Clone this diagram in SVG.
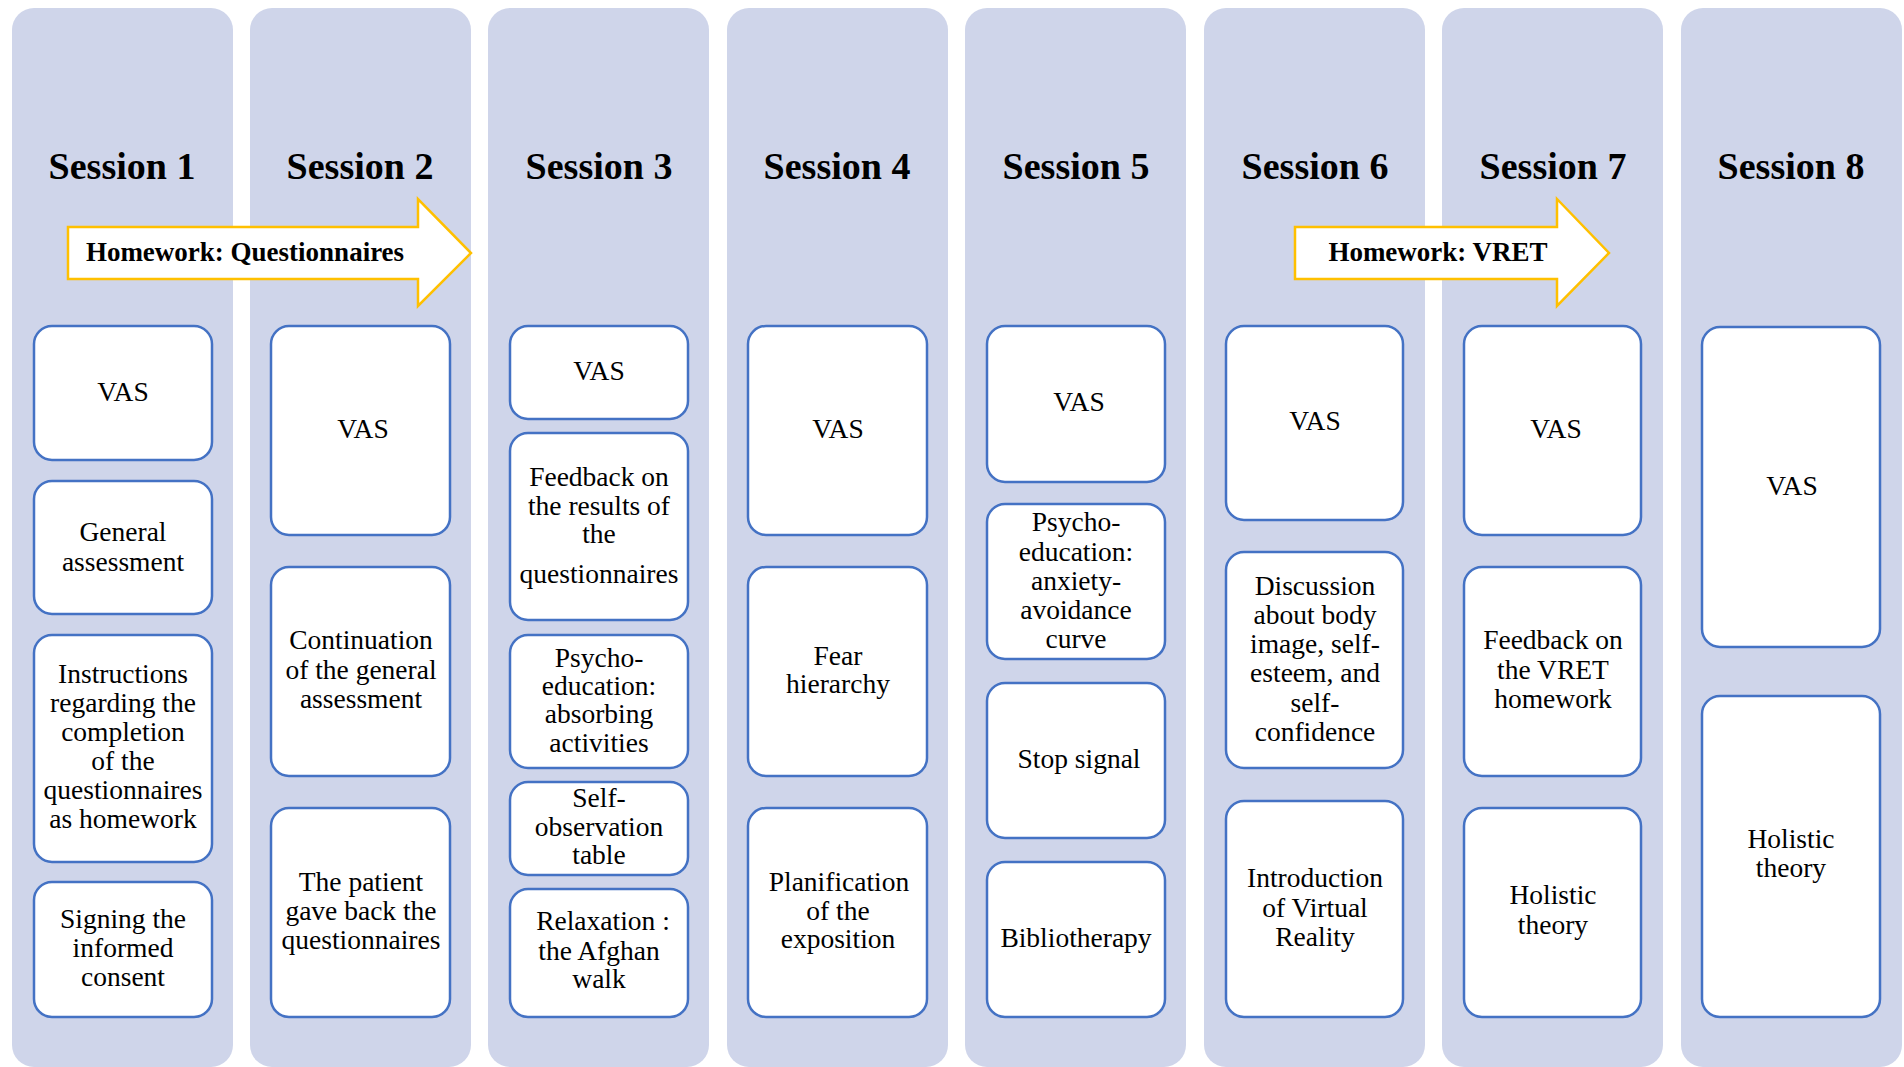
<svg xmlns="http://www.w3.org/2000/svg" width="1904" height="1067" viewBox="0 0 1904 1067">
<style>
.col{fill:#CFD5EA}
.box{fill:#FFFFFF;stroke:#4472C4;stroke-width:2.5}
.title{font-family:"Liberation Serif","Times New Roman",serif;font-weight:bold;font-size:38px;fill:#000;text-anchor:middle}
.t{font-family:"Liberation Serif","Times New Roman",serif;font-size:27.5px;fill:#000;text-anchor:middle}
.arrow{fill:#FFFFFF;stroke:#FFC000;stroke-width:2.5;stroke-linejoin:miter}
.at{font-family:"Liberation Serif","Times New Roman",serif;font-weight:bold;font-size:27px;fill:#000;text-anchor:middle}
</style>
<rect width="1904" height="1067" fill="#FFFFFF"/>
<g id="columns">
<rect class="col" x="12" y="8" width="221" height="1059" rx="22"/>
<rect class="col" x="250" y="8" width="221" height="1059" rx="22"/>
<rect class="col" x="488" y="8" width="221" height="1059" rx="22"/>
<rect class="col" x="727" y="8" width="221" height="1059" rx="22"/>
<rect class="col" x="965" y="8" width="221" height="1059" rx="22"/>
<rect class="col" x="1204" y="8" width="221" height="1059" rx="22"/>
<rect class="col" x="1442" y="8" width="221" height="1059" rx="22"/>
<rect class="col" x="1681" y="8" width="221" height="1059" rx="22"/>
</g>
<g id="titles">
<text class="title" x="122" y="179">Session 1</text>
<text class="title" x="360" y="179">Session 2</text>
<text class="title" x="599" y="179">Session 3</text>
<text class="title" x="837" y="179">Session 4</text>
<text class="title" x="1076" y="179">Session 5</text>
<text class="title" x="1315" y="179">Session 6</text>
<text class="title" x="1553" y="179">Session 7</text>
<text class="title" x="1791" y="179">Session 8</text>
</g>
<g id="connectors">
<g id="arrow-questionnaires">
<path class="arrow" d="M68,227 H418 V199 L471,253 L418,306 V279 H68 Z"/>
<text class="at" x="245" y="261">Homework: Questionnaires</text>
</g>
<g id="arrow-vret">
<path class="arrow" d="M1295,227 H1557 V199 L1609,253 L1557,306 V279 H1295 Z"/>
<text class="at" x="1438" y="261">Homework: VRET</text>
</g>
</g>
<g id="session1">
<g id="s1-vas"><rect class="box" x="34" y="326" width="178" height="134" rx="18"/><text class="t" x="123" y="401">VAS</text></g>
<g id="s1-general"><rect class="box" x="34" y="481" width="178" height="133" rx="18"/><text class="t" x="123" y="541">General</text><text class="t" x="123" y="571">assessment</text></g>
<g id="s1-instructions"><rect class="box" x="34" y="635" width="178" height="227" rx="18"/>
<text class="t" x="123" y="683">Instructions</text><text class="t" x="123" y="712">regarding the</text><text class="t" x="123" y="741">completion</text><text class="t" x="123" y="770">of the</text><text class="t" x="123" y="799">questionnaires</text><text class="t" x="123" y="828">as homework</text></g>
<g id="s1-consent"><rect class="box" x="34" y="882" width="178" height="135" rx="18"/><text class="t" x="123" y="928">Signing the</text><text class="t" x="123" y="957">informed</text><text class="t" x="123" y="986">consent</text></g>
</g>
<g id="session2">
<g id="s2-vas"><rect class="box" x="271" y="326" width="179" height="209" rx="18"/><text class="t" x="363" y="438">VAS</text></g>
<g id="s2-continuation"><rect class="box" x="271" y="567" width="179" height="209" rx="18"/><text class="t" x="361" y="649">Continuation</text><text class="t" x="361" y="679">of the general</text><text class="t" x="361" y="708">assessment</text></g>
<g id="s2-patient"><rect class="box" x="271" y="808" width="179" height="209" rx="18"/><text class="t" x="361" y="891">The patient</text><text class="t" x="361" y="920">gave back the</text><text class="t" x="361" y="949">questionnaires</text></g>
</g>
<g id="session3">
<g id="s3-vas"><rect class="box" x="510" y="326" width="178" height="93" rx="18"/><text class="t" x="599" y="380">VAS</text></g>
<g id="s3-feedback"><rect class="box" x="510" y="433" width="178" height="187" rx="18"/><text class="t" x="599" y="486">Feedback on</text><text class="t" x="599" y="515">the results of</text><text class="t" x="599" y="543">the</text><text class="t" x="599" y="583">questionnaires</text></g>
<g id="s3-psycho"><rect class="box" x="510" y="635" width="178" height="133" rx="18"/><text class="t" x="599" y="667">Psycho-</text><text class="t" x="599" y="695">education:</text><text class="t" x="599" y="723">absorbing</text><text class="t" x="599" y="752">activities</text></g>
<g id="s3-selfobs"><rect class="box" x="510" y="782" width="178" height="93" rx="18"/><text class="t" x="599" y="807">Self-</text><text class="t" x="599" y="836">observation</text><text class="t" x="599" y="864">table</text></g>
<g id="s3-relaxation"><rect class="box" x="510" y="889" width="178" height="128" rx="18"/><text class="t" x="603" y="930">Relaxation :</text><text class="t" x="599" y="960">the Afghan</text><text class="t" x="599" y="988">walk</text></g>
</g>
<g id="session4">
<g id="s4-vas"><rect class="box" x="748" y="326" width="179" height="209" rx="18"/><text class="t" x="838" y="438">VAS</text></g>
<g id="s4-fear"><rect class="box" x="748" y="567" width="179" height="209" rx="18"/><text class="t" x="838" y="665">Fear</text><text class="t" x="838" y="693">hierarchy</text></g>
<g id="s4-plan"><rect class="box" x="748" y="808" width="179" height="209" rx="18"/><text class="t" x="839" y="891">Planification</text><text class="t" x="838" y="920">of the</text><text class="t" x="838" y="948">exposition</text></g>
</g>
<g id="session5">
<g id="s5-vas"><rect class="box" x="987" y="326" width="178" height="156" rx="18"/><text class="t" x="1079" y="411">VAS</text></g>
<g id="s5-psycho"><rect class="box" x="987" y="504" width="178" height="155" rx="18"/><text class="t" x="1076" y="531">Psycho-</text><text class="t" x="1076" y="561">education:</text><text class="t" x="1076" y="590">anxiety-</text><text class="t" x="1076" y="619">avoidance</text><text class="t" x="1076" y="648">curve</text></g>
<g id="s5-stop"><rect class="box" x="987" y="683" width="178" height="155" rx="18"/><text class="t" x="1079" y="768">Stop signal</text></g>
<g id="s5-biblio"><rect class="box" x="987" y="862" width="178" height="155" rx="18"/><text class="t" x="1076" y="947">Bibliotherapy</text></g>
</g>
<g id="session6">
<g id="s6-vas"><rect class="box" x="1226" y="326" width="177" height="194" rx="18"/><text class="t" x="1315" y="430">VAS</text></g>
<g id="s6-discussion"><rect class="box" x="1226" y="552" width="177" height="216" rx="18"/><text class="t" x="1315" y="595">Discussion</text><text class="t" x="1315" y="624">about body</text><text class="t" x="1315" y="653">image, self-</text><text class="t" x="1315" y="682">esteem, and</text><text class="t" x="1315" y="712">self-</text><text class="t" x="1315" y="741">confidence</text></g>
<g id="s6-intro"><rect class="box" x="1226" y="801" width="177" height="216" rx="18"/><text class="t" x="1315" y="887">Introduction</text><text class="t" x="1315" y="917">of Virtual</text><text class="t" x="1315" y="946">Reality</text></g>
</g>
<g id="session7">
<g id="s7-vas"><rect class="box" x="1464" y="326" width="177" height="209" rx="18"/><text class="t" x="1556" y="438">VAS</text></g>
<g id="s7-feedback"><rect class="box" x="1464" y="567" width="177" height="209" rx="18"/><text class="t" x="1553" y="649">Feedback on</text><text class="t" x="1553" y="679">the VRET</text><text class="t" x="1553" y="708">homework</text></g>
<g id="s7-holistic"><rect class="box" x="1464" y="808" width="177" height="209" rx="18"/><text class="t" x="1553" y="904">Holistic</text><text class="t" x="1553" y="934">theory</text></g>
</g>
<g id="session8">
<g id="s8-vas"><rect class="box" x="1702" y="327" width="178" height="320" rx="18"/><text class="t" x="1792" y="495">VAS</text></g>
<g id="s8-holistic"><rect class="box" x="1702" y="696" width="178" height="321" rx="18"/><text class="t" x="1791" y="848">Holistic</text><text class="t" x="1791" y="877">theory</text></g>
</g>
</svg>
